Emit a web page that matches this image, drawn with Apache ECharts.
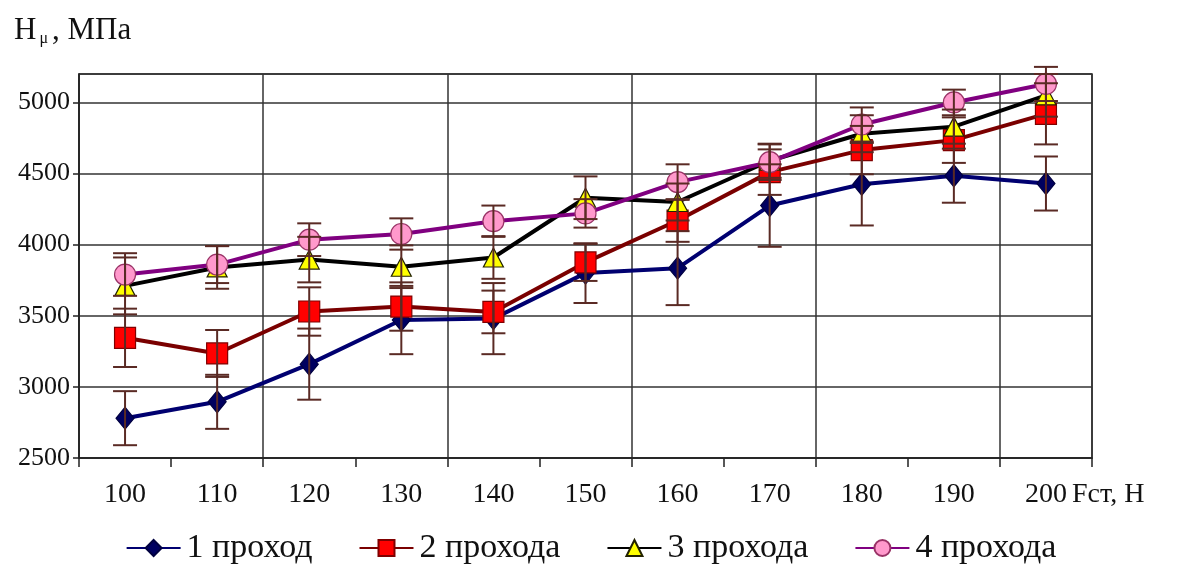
<!DOCTYPE html>
<html>
<head>
<meta charset="utf-8">
<script src="https://cdn.jsdelivr.net/npm/echarts@6/dist/echarts.min.js"></script>
<style>html,body{margin:0;padding:0;background:#fff;}#c{width:1182px;height:576px;}</style>
</head>
<body>
<div id="c"></div>
<script>
var categories = ['100','110','120','130','140','150','160','170','180','190','200'];
var seriesNames = ['1 проход','2 прохода','3 прохода','4 прохода'];
var pass1 = [2780, 2895, 3160, 3470, 3480, 3800, 3835, 4275, 4425, 4485, 4430];
var pass2 = [3345, 3235, 3530, 3565, 3527, 3875, 4170, 4510, 4665, 4735, 4920];
var pass3 = [3710, 3840, 3895, 3845, 3910, 4330, 4300, 4590, 4780, 4830, 5050];
var pass4 = [3790, 3860, 4035, 4075, 4165, 4220, 4440, 4580, 4845, 5000, 5130];
var err1 = [190, 190, 250, 240, 250, 210, 260, 290, 290, 190, 190];
var err2 = [205, 165, 170, 170, 150, 130, 150, 160, 170, 160, 215];
var err3 = [200, 150, 160, 150, 150, 150, 130, 120, 130, 120, 150];
var err4 = [150, 130, 115, 110, 110, 100, 125, 125, 120, 90, 120];
var yTicks = {min: 2500, max: 5200, step: 500};
var xAxisTitle = 'Fст, Н';

var FONT = 'Liberation Serif';
var chart = echarts.init(document.getElementById('c'));

function errSeries(vals, errs, name) {
  var data = vals.map(function (v, i) { return [i, v - errs[i], v + errs[i]]; });
  return {
    type: 'custom',
    name: name + ' err',
    clip: false,
    z: 4,
    silent: true,
    renderItem: function (params, api) {
      var x = api.value(0);
      var lo = api.coord([x, api.value(1)]);
      var hi = api.coord([x, api.value(2)]);
      var w = 12;
      var st = {stroke: '#5a2a24', lineWidth: 2};
      return {
        type: 'group',
        children: [
          {type: 'line', shape: {x1: lo[0], y1: lo[1], x2: hi[0], y2: hi[1]}, style: st},
          {type: 'line', shape: {x1: lo[0] - w, y1: lo[1], x2: lo[0] + w, y2: lo[1]}, style: st},
          {type: 'line', shape: {x1: hi[0] - w, y1: hi[1], x2: hi[0] + w, y2: hi[1]}, style: st}
        ]
      };
    },
    data: data
  };
}

function lineSeries(name, vals, lineColor, symbol, size, fill, border) {
  return {
    type: 'line',
    name: name,
    data: vals,
    z: 3,
    symbol: symbol,
    symbolSize: size,
    showAllSymbol: true,
    lineStyle: {color: lineColor, width: 4},
    itemStyle: {color: fill, borderColor: border, borderWidth: 1.2},
    emphasis: {disabled: true}
  };
}

var option = {
  animation: false,
  backgroundColor: '#ffffff',
  title: {
    left: 9,
    top: 10,
    text: '{h|H}{s|μ}{h|, МПа}',
    textStyle: {
      rich: {
        h: {fontFamily: FONT, fontSize: 31, fontWeight: 'normal', color: '#111'},
        s: {fontFamily: FONT, fontSize: 16, fontWeight: 'normal', color: '#111', verticalAlign: 'bottom', padding: [16, 4, 0, 3]}
      }
    }
  },
  graphic: [{
    type: 'text',
    left: 1072,
    top: 481,
    style: {text: xAxisTitle, fontFamily: FONT, fontSize: 28, fill: '#111'}
  }],
  legend: {
    bottom: 6,
    left: 'center',
    itemWidth: 54,
    itemHeight: 20,
    itemGap: 46,
    textStyle: {fontFamily: FONT, fontSize: 34, color: '#111', padding: [0, 0, 0, 1]},
    data: seriesNames
  },
  grid: {
    left: 79, right: 90, top: 74, bottom: 118,
    show: true, borderColor: '#222', borderWidth: 1.5
  },
  xAxis: {
    type: 'category',
    data: categories,
    boundaryGap: true,
    axisLine: {lineStyle: {color: '#222', width: 1.5}},
    axisTick: {show: true, interval: 0, length: 9, lineStyle: {color: '#222', width: 1.5}},
    axisLabel: {fontFamily: FONT, fontSize: 28, color: '#111', margin: 23, interval: 0},
    splitLine: {show: true, interval: 1, lineStyle: {color: '#333', width: 1.5}}
  },
  yAxis: {
    type: 'value',
    min: yTicks.min,
    max: yTicks.max,
    interval: yTicks.step,
    axisLine: {show: true, lineStyle: {color: '#222', width: 1.5}},
    axisTick: {show: true, length: 6, lineStyle: {color: '#222', width: 1.5}},
    axisLabel: {fontFamily: FONT, fontSize: 26, color: '#111', margin: 9, showMaxLabel: false,
      formatter: function (v) { return String(v); }},
    splitLine: {show: true, lineStyle: {color: '#333', width: 1.5}}
  },
  series: [
    lineSeries(seriesNames[0], pass1, '#000070', 'diamond', [18, 22], '#000060', '#000040'),
    lineSeries(seriesNames[1], pass2, '#7a0000', 'rect', 21, '#ff0000', '#800000'),
    lineSeries(seriesNames[2], pass3, '#000000', 'triangle', [20, 19], '#ffff00', '#222200'),
    lineSeries(seriesNames[3], pass4, '#800080', 'circle', 21, '#ff99cc', '#993366'),
    errSeries(pass1, err1, seriesNames[0]),
    errSeries(pass2, err2, seriesNames[1]),
    errSeries(pass3, err3, seriesNames[2]),
    errSeries(pass4, err4, seriesNames[3])
  ]
};
chart.setOption(option);
</script>
</body>
</html>
